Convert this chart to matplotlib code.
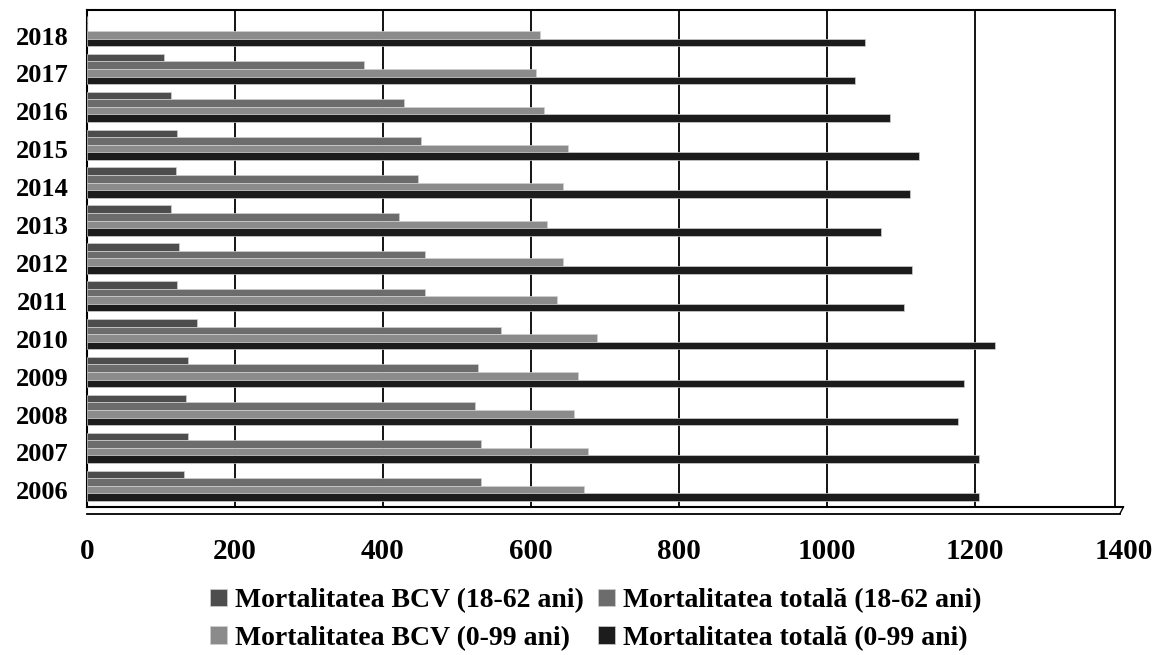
import numpy as np
import matplotlib.pyplot as plt
from matplotlib.lines import Line2D

# Mortality data per year
years = ["2006", "2007", "2008", "2009", "2010", "2011", "2012",
         "2013", "2014", "2015", "2016", "2017", "2018"]
bcv_18_62 = [131, 137, 134, 137, 149, 122, 124, 114, 120, 122, 114, 104, 0]
total_18_62 = [533, 532, 524, 529, 559, 457, 457, 421, 447, 451, 428, 375, 0]
bcv_0_99 = [672, 677, 658, 664, 689, 635, 643, 622, 643, 650, 618, 607, 612]
total_0_99 = [1205, 1205, 1176, 1184, 1227, 1104, 1114, 1072, 1112, 1124, 1085, 1038, 1051]

labels = ["Mortalitatea BCV (18-62 ani)", "Mortalitatea totală (18-62 ani)",
          "Mortalitatea BCV (0-99 ani)", "Mortalitatea totală (0-99 ani)"]
colors = ["#4d4d4d", "#6c6c6c", "#8b8b8b", "#1c1c1c"]
offsets = [0.3, 0.1, -0.1, -0.3]

plt.rcParams["font.family"] = ["Liberation Serif", "DejaVu Serif"]
plt.rcParams["font.weight"] = "bold"

fig = plt.figure(figsize=(11.57, 6.55), dpi=100)
ax = fig.add_axes([0.075, 0.226, 0.896, 0.759])

y = np.arange(len(years))
handles = []
for vals, col, off, lab in zip([bcv_18_62, total_18_62, bcv_0_99, total_0_99],
                               colors, offsets, labels):
    b = ax.barh(y + off, vals, height=0.2, color=col, edgecolor="#d0d0d0",
                linewidth=0.5, label=lab, zorder=3)
    handles.append(b)

ax.set_xlim(0, 1400)
ax.set_ylim(-0.56, 12.56)

# back wall gridlines
for gx in range(200, 1201, 200):
    ax.axvline(gx, color="black", lw=1.3, zorder=1)
ax.plot([1388, 1388], [-0.56, 12.56], color="black", lw=1.3, zorder=1)
ax.plot([0, 1388], [12.56, 12.56], color="black", lw=1.5, zorder=1, clip_on=False)

for s in ["top", "right"]:
    ax.spines[s].set_visible(False)
ax.spines["left"].set_linewidth(1.5)
ax.spines["bottom"].set_linewidth(1.5)

# floor edge
fig.add_artist(Line2D([0.075, 0.968], [0.216, 0.216], color="black", lw=1.3))
fig.add_artist(Line2D([0.968, 0.971], [0.216, 0.226], color="black", lw=1.0))

ax.set_yticks(y - 0.12)
ax.set_yticklabels(years, fontsize=19, fontweight="bold")
ax.set_xticks(range(0, 1401, 200))
ax.set_xticklabels([str(v) for v in range(0, 1401, 200)], fontsize=21, fontweight="bold")
ax.tick_params(axis="y", length=0, pad=13)
ax.tick_params(axis="x", length=0, pad=22)

fig.legend([handles[0], handles[2], handles[1], handles[3]],
           [labels[0], labels[2], labels[1], labels[3]],
           loc="upper center", bbox_to_anchor=(0.515, 0.14), ncol=2,
           frameon=False, handlelength=0.6, handleheight=0.6,
           handletextpad=0.3, columnspacing=0.5, labelspacing=0.45,
           prop={"weight": "bold", "size": 20})

fig.savefig("out.png", dpi=100)
